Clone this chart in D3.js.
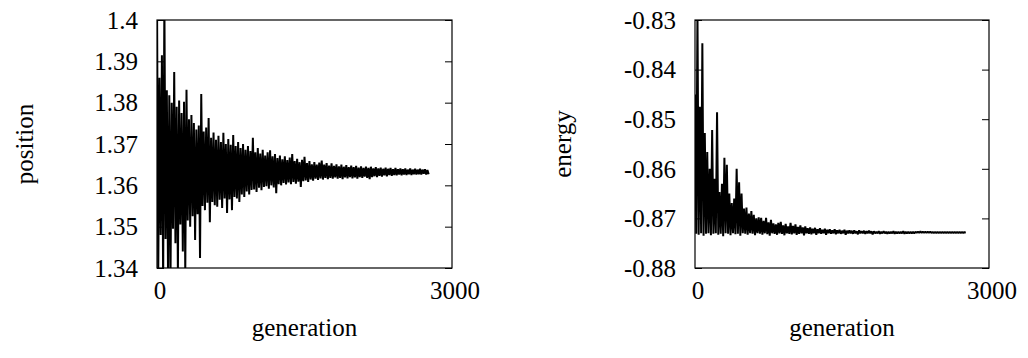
<!DOCTYPE html>
<html><head><meta charset="utf-8">
<script src="https://cdn.jsdelivr.net/npm/d3@7"></script>
<style>
body{margin:0;background:#fff}
svg text{font-family:"Liberation Serif","Times New Roman",serif;fill:#000}
</style>
</head><body>
<svg id="chart" width="1028" height="358"></svg>
<script>
// generations per bin; each bin holds the highest and lowest value
const binSize = 25;

const positionHigh = [
1.4060,1.3860,1.3915,1.4050,1.3830,1.3818,1.3800,1.3874,1.3790,1.3805,
1.3775,1.3802,1.3831,1.3760,1.3770,1.3751,1.3735,1.3745,1.3821,1.3730,
1.3740,1.3763,1.3715,1.3728,1.3710,1.3720,1.3705,1.3727,1.3700,1.3712,
1.3698,1.3722,1.3695,1.3705,1.3690,1.3700,1.3686,1.3695,1.3683,1.3715,
1.3680,1.3690,1.3677,1.3686,1.3672,1.3680,1.3685,1.3670,1.3676,1.3666,
1.3672,1.3663,1.3670,1.3661,1.3667,1.3676,1.3659,1.3664,1.3656,1.3662,
1.3669,1.3654,1.3659,1.3651,1.3656,1.3650,1.3655,1.3660,1.3650,1.3654,
1.3648,1.3653,1.3647,1.3651,1.3646,1.3650,1.3645,1.3649,1.3644,1.3648,
1.3644,1.3647,1.3643,1.3646,1.3642,1.3645,1.3642,1.3645,1.3641,1.3644,
1.3641,1.3643,1.3640,1.3643,1.3640,1.3642,1.3639,1.3642,1.3639,1.3641,
1.3639,1.3641,1.3638,1.3641,1.3638,1.3640,1.3638,1.3640,1.3638,1.3639,1.3637];

const positionLow = [
1.3380,1.3480,1.3360,1.3470,1.3370,1.3380,1.3495,1.3460,1.3390,1.3505,
1.3440,1.3390,1.3515,1.3500,1.3525,1.3468,1.3530,1.3424,1.3550,1.3540,
1.3558,1.3511,1.3560,1.3552,1.3548,1.3565,1.3545,1.3568,1.3533,1.3566,
1.3540,1.3572,1.3568,1.3560,1.3578,1.3572,1.3585,1.3578,1.3589,1.3590,
1.3584,1.3594,1.3588,1.3596,1.3598,1.3592,1.3600,1.3595,1.3581,1.3603,
1.3600,1.3606,1.3602,1.3607,1.3603,1.3608,1.3604,1.3609,1.3596,1.3610,
1.3612,1.3608,1.3614,1.3611,1.3616,1.3613,1.3617,1.3614,1.3618,1.3615,
1.3618,1.3616,1.3619,1.3616,1.3618,1.3615,1.3619,1.3617,1.3620,1.3617,
1.3619,1.3616,1.3620,1.3618,1.3621,1.3618,1.3615,1.3620,1.3622,1.3620,
1.3623,1.3621,1.3624,1.3622,1.3625,1.3623,1.3625,1.3624,1.3626,1.3624,
1.3626,1.3625,1.3627,1.3625,1.3627,1.3626,1.3627,1.3626,1.3628,1.3626,1.3627];

const energyHigh = [
-0.8450,-0.8280,-0.8475,-0.8347,-0.8528,-0.8566,-0.8600,-0.8522,-0.8620,-0.8486,
-0.8647,-0.8630,-0.8578,-0.8592,-0.8650,-0.8669,-0.8660,-0.8600,-0.8627,-0.8650,
-0.8680,-0.8678,-0.8690,-0.8685,-0.8693,-0.8700,-0.8698,-0.8699,-0.8705,-0.8699,
-0.8708,-0.8703,-0.8710,-0.8712,-0.8709,-0.8707,-0.8714,-0.8711,-0.8716,-0.8709,
-0.8715,-0.8712,-0.8717,-0.8714,-0.8718,-0.8716,-0.8720,-0.8718,-0.8721,-0.8719,
-0.8722,-0.8720,-0.8723,-0.8721,-0.8723,-0.8722,-0.8724,-0.8722,-0.8724,-0.8723,
-0.8725,-0.8723,-0.8725,-0.8724,-0.8725,-0.8724,-0.8726,-0.8724,-0.8726,-0.8725,
-0.8726,-0.8725,-0.8726,-0.8726,-0.8727,-0.8726,-0.8727,-0.8726,-0.8727,-0.8727,
-0.8727,-0.8726,-0.8727,-0.8727,-0.8727,-0.8726,-0.8727,-0.8727,-0.8727,-0.8727,
-0.8727,-0.8727,-0.8726,-0.8727,-0.8727,-0.8727,-0.8727,-0.8728,-0.8728,-0.8728,
-0.8728,-0.8728,-0.8728,-0.8728,-0.8728,-0.8728,-0.8728,-0.8728,-0.8728,-0.8728,-0.8728];

const energyLow = [
-0.8731,-0.8733,-0.8730,-0.8735,-0.8731,-0.8730,-0.8734,-0.8731,-0.8730,-0.8733,
-0.8731,-0.8736,-0.8730,-0.8731,-0.8734,-0.8730,-0.8732,-0.8731,-0.8735,-0.8730,
-0.8731,-0.8733,-0.8730,-0.8731,-0.8734,-0.8730,-0.8731,-0.8733,-0.8730,-0.8732,
-0.8735,-0.8730,-0.8731,-0.8733,-0.8730,-0.8731,-0.8734,-0.8730,-0.8731,-0.8732,
-0.8730,-0.8733,-0.8731,-0.8730,-0.8734,-0.8730,-0.8731,-0.8732,-0.8730,-0.8733,
-0.8730,-0.8731,-0.8730,-0.8733,-0.8730,-0.8731,-0.8730,-0.8732,-0.8730,-0.8731,
-0.8730,-0.8733,-0.8730,-0.8730,-0.8731,-0.8730,-0.8732,-0.8730,-0.8730,-0.8731,
-0.8730,-0.8730,-0.8732,-0.8730,-0.8730,-0.8731,-0.8730,-0.8730,-0.8731,-0.8730,
-0.8730,-0.8731,-0.8730,-0.8730,-0.8730,-0.8731,-0.8730,-0.8730,-0.8730,-0.8730,
-0.8729,-0.8729,-0.8729,-0.8729,-0.8729,-0.8729,-0.8729,-0.8729,-0.8729,-0.8729,
-0.8729,-0.8729,-0.8729,-0.8729,-0.8729,-0.8729,-0.8729,-0.8729,-0.8729,-0.8729,-0.8729];

const xTicks = [0, 3000];
const xTickLabels = ["0", "3000"];
const positionTicks = [1.34, 1.35, 1.36, 1.37, 1.38, 1.39, 1.4];
const positionTickLabels = ["1.34", "1.35", "1.36", "1.37", "1.38", "1.39", "1.4"];
const energyTicks = [-0.88, -0.87, -0.86, -0.85, -0.84, -0.83];
const energyTickLabels = ["-0.88", "-0.87", "-0.86", "-0.85", "-0.84", "-0.83"];
const xTitle = "generation";
const positionTitle = "position";
const energyTitle = "energy";

const svg = d3.select("#chart");

function toPoints(high, low) {
  const pts = [];
  high.forEach((h, i) => {
    pts.push([i * binSize, h]);
    pts.push([i * binSize + binSize / 2, low[i]]);
  });
  return pts;
}

function panel(cfg) {
  const {left, right, top, bottom} = cfg;
  const x = d3.scaleLinear().domain([0, 3000]).range([left, right]);
  const y = d3.scaleLinear().domain(cfg.yDomain).range([bottom, top]);
  const g = svg.append("g");
  const clipId = "clip-" + cfg.id;
  svg.append("clipPath").attr("id", clipId).append("rect")
    .attr("x", left).attr("y", top).attr("width", right - left).attr("height", bottom - top);

  const line = d3.line().x(d => x(d[0])).y(d => y(d[1]));
  g.append("path")
    .attr("clip-path", `url(#${clipId})`)
    .attr("d", line(toPoints(cfg.high, cfg.low)))
    .attr("fill", "none").attr("stroke", "#000").attr("stroke-width", 2)
    .attr("stroke-linejoin", "bevel");

  // inward ticks, mirrored on the right
  const tl = 7;
  const yl = d3.axisLeft(y).tickValues(cfg.ticks).tickSize(-tl).tickFormat("");
  const yr = d3.axisRight(y).tickValues(cfg.ticks).tickSize(-tl).tickFormat("");
  const ga = g.append("g").attr("transform", `translate(${left},0)`).call(yl);
  const gb = g.append("g").attr("transform", `translate(${right},0)`).call(yr);
  [ga, gb].forEach(a => { a.select(".domain").remove(); a.selectAll("line").attr("stroke", "#000"); });

  g.append("rect").attr("x", left).attr("y", top)
    .attr("width", right - left).attr("height", bottom - top)
    .attr("fill", "none").attr("stroke", "#000").attr("stroke-width", 1.2);

  cfg.ticks.forEach((t, i) => {
    g.append("text").attr("x", left - 19).attr("y", y(t)).attr("dy", "0.35em")
      .attr("text-anchor", "end").attr("font-size", 25).text(cfg.tickLabels[i]);
  });
  xTicks.forEach((t, i) => {
    g.append("text").attr("x", x(t) + 3).attr("y", bottom + 22).attr("dy", "0.35em")
      .attr("text-anchor", "middle").attr("font-size", 25).text(xTickLabels[i]);
  });
  g.append("text").attr("x", (left + right) / 2).attr("y", bottom + 59).attr("dy", "0.35em")
    .attr("text-anchor", "middle").attr("font-size", 25).text(xTitle);
  g.append("text")
    .attr("transform", `translate(${cfg.titleX},${(top + bottom) / 2}) rotate(-90)`)
    .attr("dy", "0.35em").attr("text-anchor", "middle").attr("font-size", 25).text(cfg.title);
}

panel({id: "pos", left: 157, right: 452, top: 20, bottom: 268, yDomain: [1.34, 1.4],
  high: positionHigh, low: positionLow, ticks: positionTicks, tickLabels: positionTickLabels,
  title: positionTitle, titleX: 24});
panel({id: "en", left: 695, right: 989, top: 20, bottom: 268, yDomain: [-0.88, -0.83],
  high: energyHigh, low: energyLow, ticks: energyTicks, tickLabels: energyTickLabels,
  title: energyTitle, titleX: 562});
</script>
</body></html>
